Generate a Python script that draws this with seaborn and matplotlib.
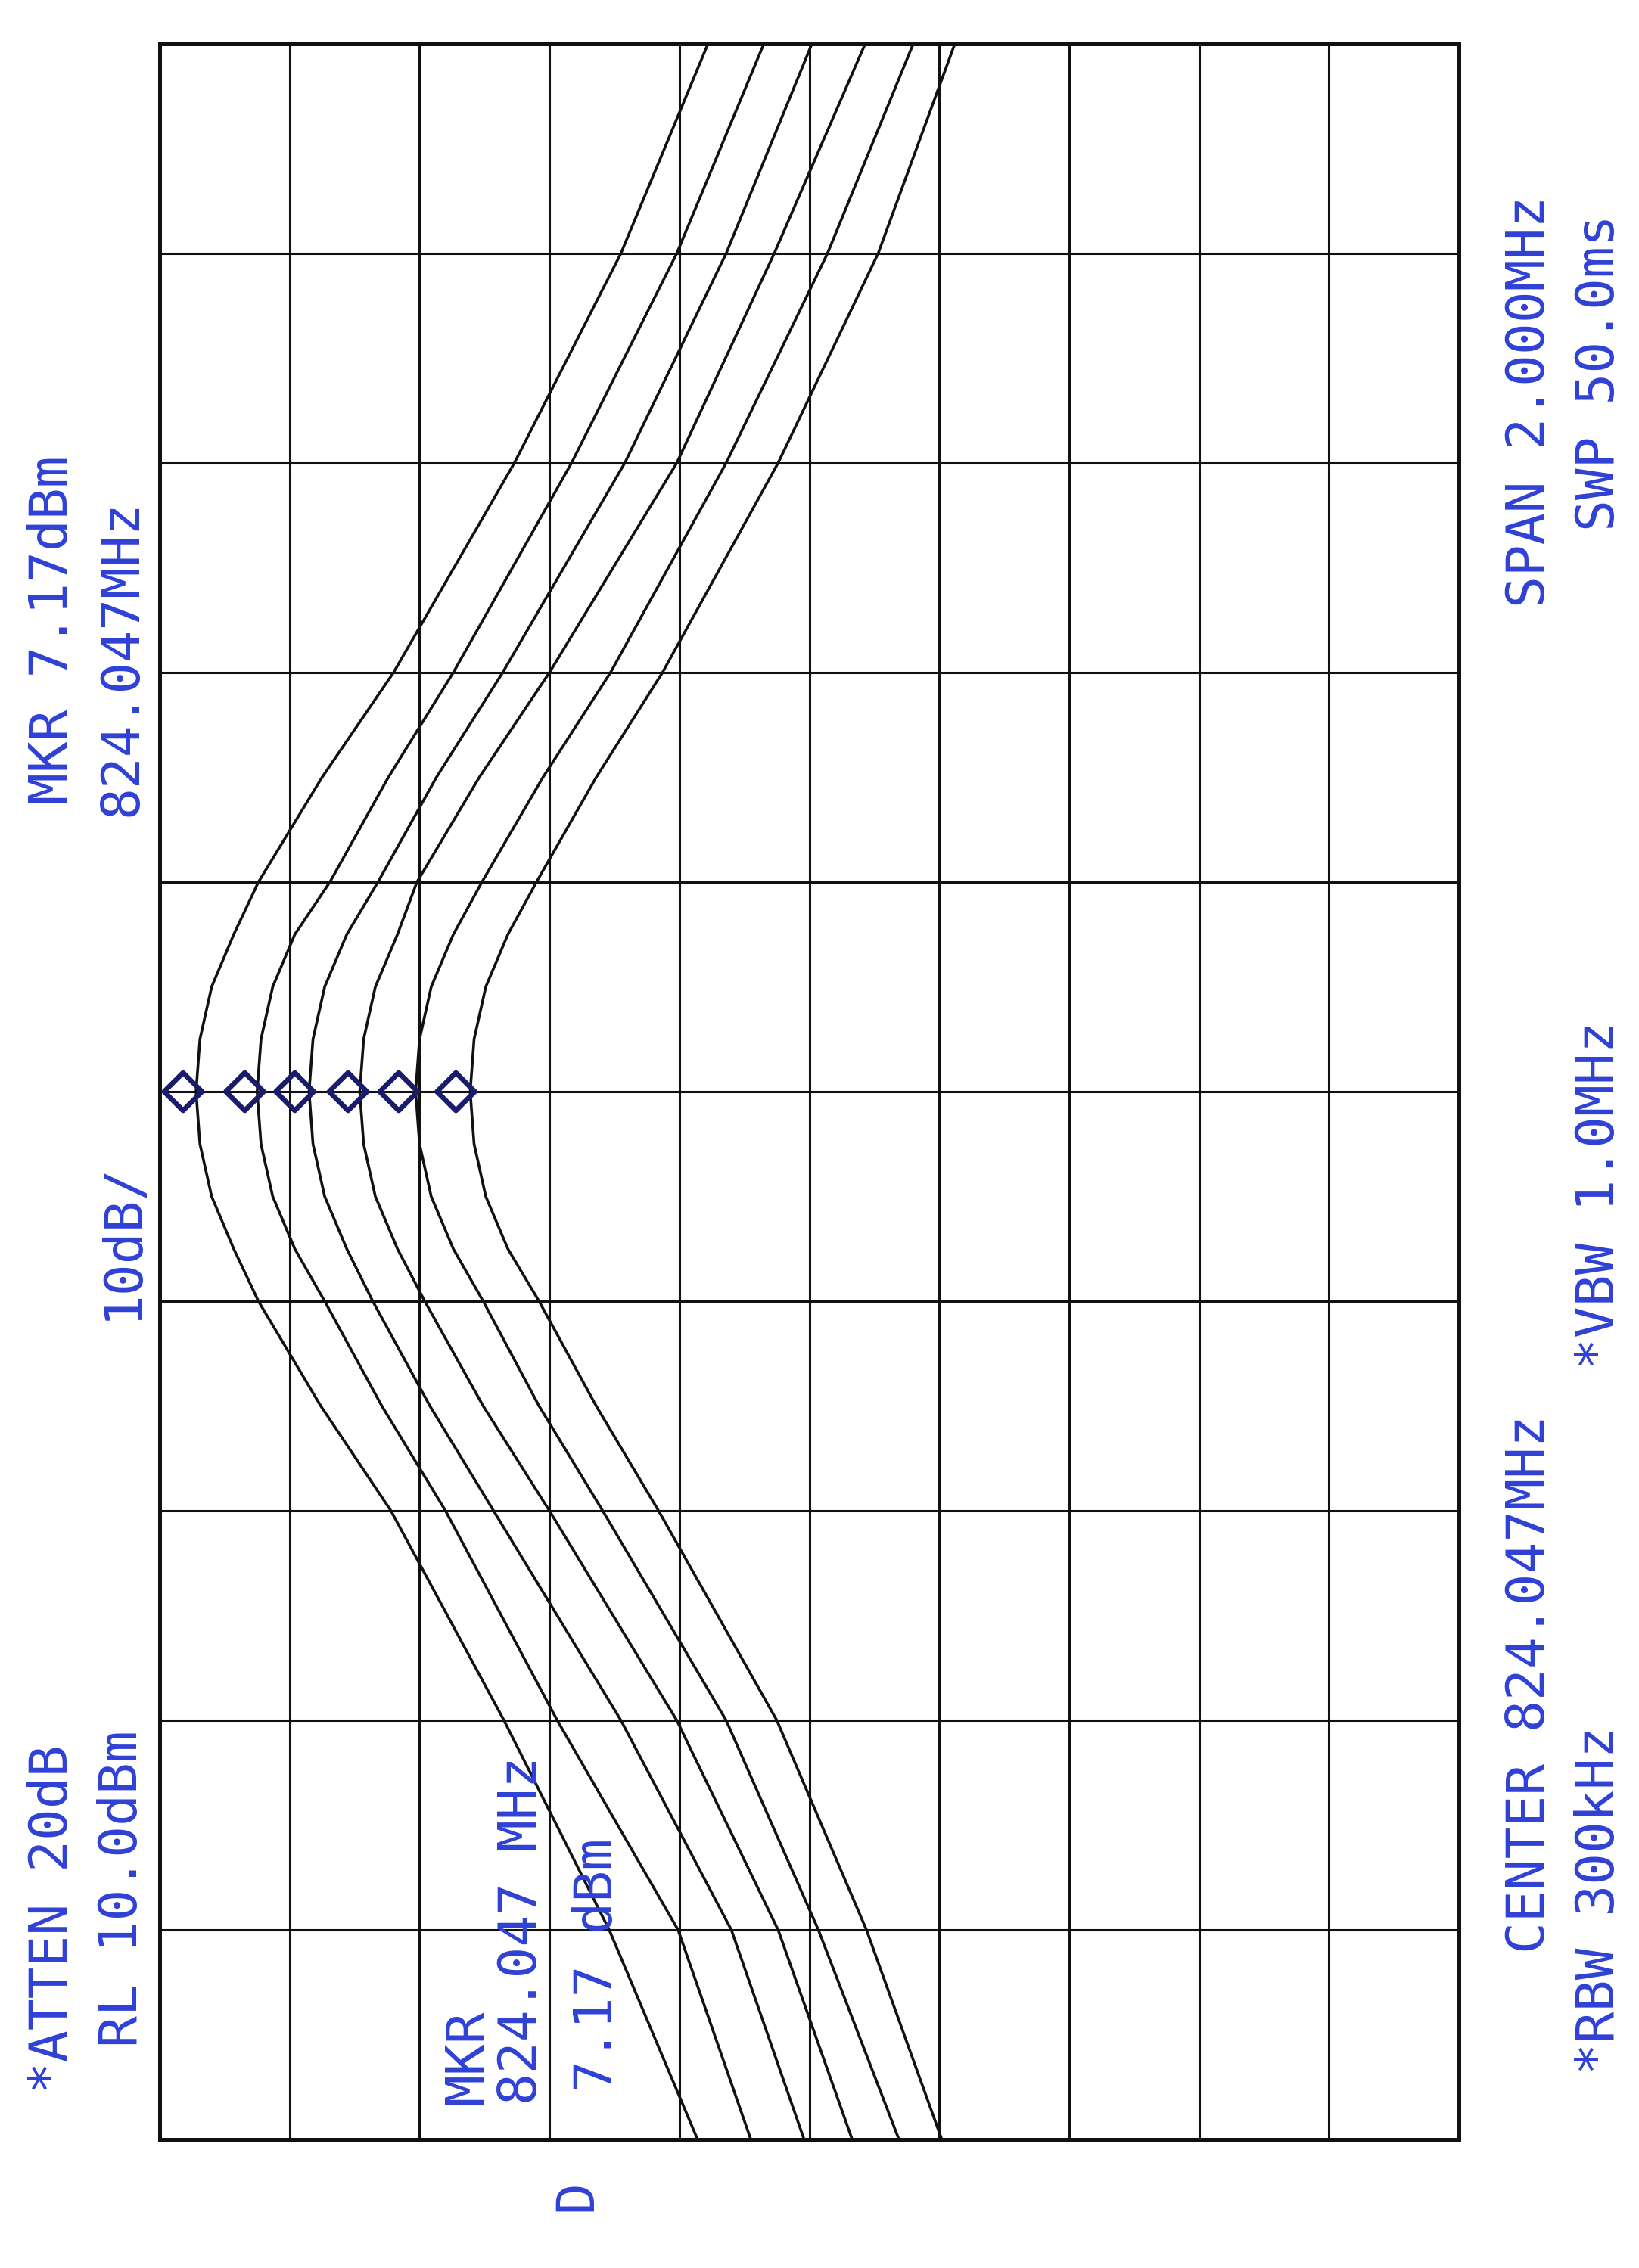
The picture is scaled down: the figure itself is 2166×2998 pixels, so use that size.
import matplotlib
matplotlib.use("Agg")
import matplotlib.pyplot as plt
import seaborn as sns
import pandas as pd
import numpy as np

# ---- data (frequency in MHz, amplitude in dBm) ----
freq_mhz = [825.047, 824.847, 824.647, 824.447, 824.347, 824.247, 824.197, 824.147, 824.097,
            824.047, 823.997, 823.947, 823.897, 823.847, 823.747, 823.647, 823.447, 823.247,
            823.047]
trace_1 = [-32.2, -25.5, -17.3, -8.0, -2.5, 2.4, 4.3, 6.0, 6.9, 7.2, 6.9, 6.0, 4.3, 2.4,
           -2.4, -7.8, -16.5, -24.6, -31.4]
trace_2 = [-36.5, -29.8, -21.7, -12.6, -7.6, -3.1, -0.4, 1.3, 2.2, 2.5, 2.2, 1.3, -0.4, -2.7,
           -7.1, -12.0, -20.6, -29.9, -35.5]
trace_3 = [-40.2, -33.6, -25.8, -16.4, -11.3, -6.8, -4.4, -2.7, -1.8, -1.5, -1.8, -2.7, -4.4,
           -6.4, -10.8, -15.7, -25.5, -34.0, -39.6]
trace_4 = [-44.3, -37.3, -29.8, -20.0, -14.6, -9.8, -8.3, -6.6, -5.7, -5.4, -5.7, -6.6, -8.3,
           -10.4, -14.9, -20.0, -29.8, -37.6, -43.3]
trace_5 = [-48.0, -41.4, -33.6, -24.7, -19.5, -14.8, -12.6, -10.9, -10.0, -9.7, -10.0, -10.9,
           -12.6, -14.9, -19.2, -24.1, -33.6, -40.7, -46.9]
trace_6 = [-51.2, -45.3, -37.6, -28.7, -23.6, -19.0, -16.8, -15.1, -14.2, -13.9, -14.2, -15.1,
           -16.8, -19.2, -23.6, -28.4, -37.5, -44.4, -50.2]
trace_names = ["T1", "T2", "T3", "T4", "T5", "T6"]
marker_freq = 824.047
marker_amps = [8.2, 3.45, -0.4, -4.5, -8.4, -12.8]

ref_level = 10.0
db_per_div = 10
center_mhz = 824.047
span_mhz = 2.0

# ---- styling ----
sns.set_theme(style="white")
plt.rcParams["font.family"] = ["DejaVu Sans Mono", "DejaVu Sans"]
BLUE = "#2f40d6"
NAVY = "#1b1b6b"

W, H = 2166, 2998
fig = plt.figure(figsize=(W / 100, H / 100), dpi=100)
fig.patch.set_facecolor("white")
L, R, T, B = 211, 1928, 58, 2828
ax = fig.add_axes([L / W, 1 - B / H, (R - L) / W, (B - T) / H])

rows = []
for name, vals in zip(trace_names, [trace_1, trace_2, trace_3, trace_4, trace_5, trace_6]):
    for f, a in zip(freq_mhz, vals):
        rows.append({"trace": name, "freq": f, "amp": a})
df = pd.DataFrame(rows)

sns.lineplot(data=df, x="amp", y="freq", hue="trace", palette=["#111111"] * 6,
             sort=False, estimator=None, legend=False, linewidth=2.6, ax=ax, zorder=3)

sns.scatterplot(x=marker_amps, y=[marker_freq] * len(marker_amps), marker="D", s=650,
                ax=ax, zorder=5, legend=False)
coll = ax.collections[-1]
coll.set_facecolor("none")
coll.set_edgecolor(NAVY)
coll.set_linewidth(4.8)

ax.set_xlim(ref_level, ref_level - 10 * db_per_div)
ax.set_ylim(center_mhz - span_mhz / 2, center_mhz + span_mhz / 2)
ax.set_xticks(np.linspace(ref_level, ref_level - 10 * db_per_div, 11))
ax.set_yticks(np.linspace(center_mhz - span_mhz / 2, center_mhz + span_mhz / 2, 11))
ax.grid(True, color="#111111", linewidth=2.2)
ax.set_axisbelow(True)
ax.tick_params(length=0, labelbottom=False, labelleft=False)
ax.set_xlabel("")
ax.set_ylabel("")
for sp in ax.spines.values():
    sp.set_color("#111111")
    sp.set_linewidth(3.6)
    sp.set_visible(True)

FS = 50


def rtext(x, y, s, fs=FS, start=False):
    fig.text(x / W, 1 - y / H, s, rotation=90, rotation_mode="anchor",
             ha="left" if start else "center", va="center",
             color=BLUE, fontsize=fs, family=["DejaVu Sans Mono", "DejaVu Sans"])


# left side
rtext(70, 833, "MKR 7.17dBm")
rtext(70, 2537, "*ATTEN 20dB")
rtext(161, 870, "824.047MHz")
rtext(161, 1640, "10dB/")
rtext(161, 2497, "RL 10.0dBm")
# right side
rtext(2022, 531, "SPAN 2.000MHz")
rtext(2022, 2226, "CENTER 824.047MHz")
rtext(2113, 493, "SWP 50.0ms")
rtext(2113, 1580, "*VBW 1.0MHz")
rtext(2113, 2512, "*RBW 300kHz")
# inner marker readout
rtext(617, 2782, "MKR", start=True)
rtext(690, 2782, "824.047 MHz", start=True)
rtext(790, 2765, "7.17 dBm", start=True)
rtext(762, 2902, "D")

fig.savefig("out.png", dpi=100, facecolor="white")
